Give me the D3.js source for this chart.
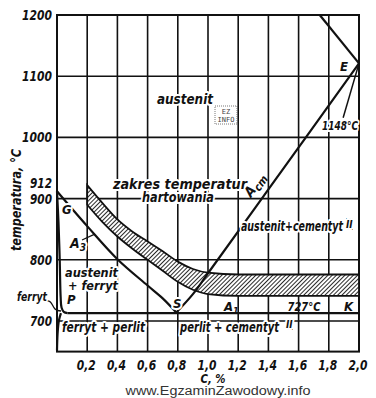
<!DOCTYPE html>
<html>
<head>
<meta charset="utf-8">
<script src="https://cdn.jsdelivr.net/npm/d3@7"></script>
<style>
  body { margin: 0; background: #fff; }
  svg { display: block; }
  .lbl { font-family: "Liberation Sans Narrow", "DejaVu Sans Condensed", sans-serif; font-style: italic; font-weight: bold; fill: #111; }
  .halo { paint-order: stroke; stroke: #fff; stroke-width: 4px; stroke-linejoin: round; }
</style>
</head>
<body>
<svg id="chart" width="376" height="398"></svg>
<script>
// carbon content ticks (%), temperature ticks (°C)
var cTicks = [0.2, 0.4, 0.6, 0.8, 1.0, 1.2, 1.4, 1.6, 1.8, 2.0];
var cTickLabels = ["0,2", "0,4", "0,6", "0,8", "1,0", "1,2", "1,4", "1,6", "1,8", "2,0"];
var tTicks = [700, 800, 900, 1000, 1100, 1200];
var tExtra = 912;

// phase lines: [C %, T °C]
var a3Line = [[0, 912], [0.2, 855], [0.4, 801], [0.6, 758], [0.7, 737], [0.79, 714]];
var acmLine = [[0.79, 714], [0.9, 744], [1.0, 778], [1.4, 915], [2.0, 1121]];
var solidusLine = [[1.74, 1200], [2.0, 1121]];
var gpLine = [[0, 912], [0.01, 860], [0.018, 800], [0.024, 740], [0.03, 722], [0.045, 715], [0.07, 713]];
var a1Line = [[0.07, 713], [2.0, 713]];
var pqLine = [[0.026, 713], [0.012, 700], [0.004, 680], [0, 652]];
var leader1148 = [[2.0, 1121], [1.895, 1032]];

// hardening range band
var bandUpper = [[0.2, 922], [0.3, 893], [0.4, 866], [0.5, 846], [0.6, 830], [0.7, 814], [0.8, 797], [0.9, 785], [1.0, 779], [1.2, 776], [2.0, 776]];
var bandLower = [[0.2, 890], [0.3, 862], [0.4, 838], [0.5, 818], [0.6, 800], [0.7, 782], [0.8, 764], [0.9, 751], [1.0, 744], [1.2, 741], [2.0, 741]];

var svg = d3.select("#chart");

var x = d3.scaleLinear().domain([0, 2.0]).range([57, 359]);
var y = d3.scaleLinear().domain([650, 1200]).range([351.6, 15]);

var defs = svg.append("defs");
var pat = defs.append("pattern")
  .attr("id", "hatch")
  .attr("patternUnits", "userSpaceOnUse")
  .attr("width", 3).attr("height", 3)
  .attr("patternTransform", "rotate(45)");
pat.append("rect").attr("width", 3).attr("height", 3).attr("fill", "#fff");
pat.append("line").attr("x1", 0).attr("y1", 0).attr("x2", 0).attr("y2", 3)
  .attr("stroke", "#111").attr("stroke-width", 1.8);

// grid
var grid = svg.append("g").attr("stroke", "#111").attr("stroke-width", 1.6);
grid.selectAll(".vg")
  .data(cTicks.slice(0, -1))
  .enter().append("line")
  .attr("x1", function (d) { return x(d); })
  .attr("x2", function (d) { return x(d); })
  .attr("y1", y(1200)).attr("y2", y(650));
grid.selectAll(".hg")
  .data(tTicks.slice(0, -1))
  .enter().append("line")
  .attr("x1", x(0)).attr("x2", x(2.0))
  .attr("y1", function (d) { return y(d); })
  .attr("y2", function (d) { return y(d); });

// frame
svg.append("rect")
  .attr("x", x(0)).attr("y", y(1200))
  .attr("width", x(2.0) - x(0)).attr("height", y(650) - y(1200))
  .attr("fill", "none").attr("stroke", "#111").attr("stroke-width", 2);

// band (smooth edges)
var edge = d3.line()
  .x(function (d) { return x(d[0]); })
  .y(function (d) { return y(d[1]); })
  .curve(d3.curveMonotoneX);
var bandPath = edge(bandUpper) + "L" + edge(bandLower.slice().reverse()).slice(1) + "Z";
svg.append("path")
  .attr("d", bandPath)
  .attr("fill", "url(#hatch)")
  .attr("stroke", "#111").attr("stroke-width", 1.8);

var curve = d3.line()
  .x(function (d) { return x(d[0]); })
  .y(function (d) { return y(d[1]); })
  .curve(d3.curveCatmullRom.alpha(0.5));

[a3Line, acmLine, solidusLine, gpLine, a1Line, pqLine].forEach(function (ln) {
  svg.append("path").datum(ln).attr("d", curve)
    .attr("fill", "none").attr("stroke", "#111").attr("stroke-width", 2.2);
});
svg.append("path").datum(leader1148).attr("d", curve)
  .attr("fill", "none").attr("stroke", "#111").attr("stroke-width", 1.5);

// leaders for A3 and ferryt
svg.append("line")
  .attr("x1", 82).attr("y1", 240)
  .attr("x2", x(0.25)).attr("y2", y(842))
  .attr("stroke", "#111").attr("stroke-width", 1.3);
svg.append("path")
  .attr("d", "M46,301 C52,300 52,306 55,309 C57,311 59,311 61,311")
  .attr("fill", "none").attr("stroke", "#111").attr("stroke-width", 1.3);

// axis tick labels
svg.selectAll(".ty")
  .data(tTicks.concat([tExtra]))
  .enter().append("text")
  .attr("class", "lbl")
  .attr("x", 52)
  .attr("y", function (d) { return y(d) + (d === tExtra ? -3 : 5); })
  .attr("text-anchor", "end")
  .attr("font-size", 14)
  .attr("textLength", function (d) { return String(d).length === 4 ? 30 : 22; })
  .attr("lengthAdjust", "spacingAndGlyphs")
  .text(function (d) { return d; });

svg.selectAll(".tx")
  .data(cTicks)
  .enter().append("text")
  .attr("class", "lbl")
  .attr("x", function (d) { return x(d) - 1; })
  .attr("y", 370)
  .attr("text-anchor", "middle")
  .attr("font-size", 14)
  .attr("textLength", 19)
  .attr("lengthAdjust", "spacingAndGlyphs")
  .text(function (d, i) { return cTickLabels[i]; });

svg.append("text").attr("class", "lbl")
  .attr("x", 213).attr("y", 383).attr("text-anchor", "middle").attr("font-size", 12)
  .attr("textLength", 25).attr("lengthAdjust", "spacingAndGlyphs")
  .text("C, %");

svg.append("text").attr("class", "lbl")
  .attr("transform", "translate(21,200) rotate(-90)")
  .attr("text-anchor", "middle").attr("font-size", 14)
  .attr("textLength", 102).attr("lengthAdjust", "spacingAndGlyphs")
  .text("temperatura, °C");

// region labels
function label(tx, ty, s, size, anchor, len, halo) {
  var t = svg.append("text").attr("class", halo === false ? "lbl" : "lbl halo")
    .attr("x", tx).attr("y", ty)
    .attr("text-anchor", anchor || "start")
    .attr("font-size", size || 14)
    .text(s);
  if (len) t.attr("textLength", len).attr("lengthAdjust", "spacingAndGlyphs");
  return t;
}
label(185, 104, "austenit", 14, "middle", 56);
label(180, 189, "zakres temperatur", 14, "middle", 134);
label(178, 202, "hartowania", 14, "middle", 72);
label(65, 277, "austenit", 13, "start", 53);
label(68, 290, "+ ferryt", 13, "start", 50);
label(17, 301, "ferryt", 13, "start", 30);
label(67, 304, "P", 13);
label(62, 214, "G", 13);
label(173, 308, "S", 13);
label(340, 71, "E", 13);
label(340, 130, "1148°C", 13, "middle", 36);
var a1 = label(224, 311, "A", 13, "start", null, false);
a1.append("tspan").attr("font-size", 9).attr("dy", 3).text("1");
label(304, 311, "727°C", 13, "middle", 33, false);
label(344, 311, "K", 13, "start", null, false);
label(70, 248, "A", 14).append("tspan").attr("font-size", 10).attr("dy", 3).text("3");

var acm = svg.append("text").attr("class", "lbl")
  .attr("transform", "translate(251,198) rotate(-54)")
  .attr("font-size", 14);
acm.append("tspan").text("A");
acm.append("tspan").attr("font-size", 11).attr("dy", 3).text("cm");

label(241, 231, "austenit+cementyt", 14, "start", 102);
svg.append("text").attr("class", "lbl halo")
  .attr("x", 346).attr("y", 228).attr("font-size", 10)
  .style("text-decoration", "underline overline").text("II");
label(180, 332, "perlit + cementyt", 14, "start", 99);
svg.append("text").attr("class", "lbl halo")
  .attr("x", 286).attr("y", 328).attr("font-size", 10)
  .style("text-decoration", "underline").text("II");
label(62, 332, "ferryt + perlit", 14, "start", 83);

// small watermark box
var wm = svg.append("g").attr("transform", "translate(215,106)");
wm.append("rect").attr("width", 22).attr("height", 18)
  .attr("fill", "#fff").attr("stroke", "#555").attr("stroke-width", 0.8).attr("stroke-dasharray", "1,1");
wm.append("text").attr("x", 11).attr("y", 8).attr("text-anchor", "middle")
  .attr("font-family", "DejaVu Sans Mono, monospace").attr("font-size", 7).attr("fill", "#444").text("EZ");
wm.append("text").attr("x", 11).attr("y", 16).attr("text-anchor", "middle")
  .attr("font-family", "DejaVu Sans Mono, monospace").attr("font-size", 7).attr("fill", "#444").text("INFO");

svg.append("text")
  .attr("x", 218).attr("y", 395)
  .attr("text-anchor", "middle")
  .attr("font-family", "Liberation Sans, Arial, sans-serif")
  .attr("font-size", 12).attr("fill", "#333")
  .attr("textLength", 185).attr("lengthAdjust", "spacingAndGlyphs")
  .text("www.EgzaminZawodowy.info");
</script>
</body>
</html>
